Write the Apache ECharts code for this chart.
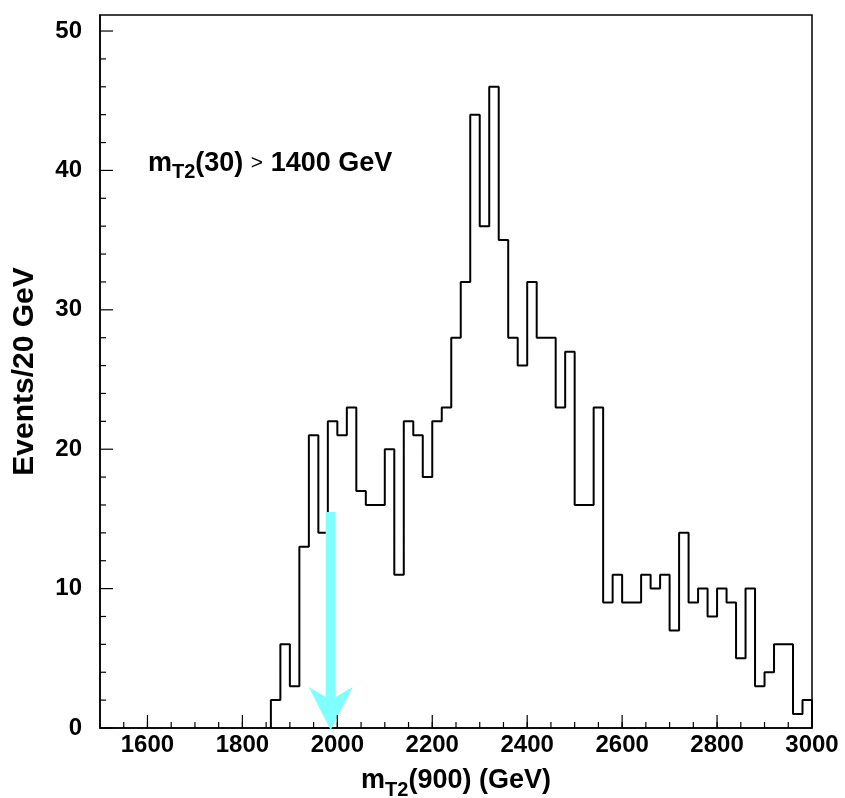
<!DOCTYPE html>
<html>
<head>
<meta charset="utf-8">
<script src="https://cdn.jsdelivr.net/npm/echarts@6/dist/echarts.min.js"></script>
<style>
html,body{margin:0;padding:0;background:#fff;}
#c{width:845px;height:798px;}
</style>
</head>
<body>
<div id="c"></div>
<script>
// ---- data ----
const binEdges = [1860,1880,1900,1920,1940,1960,1980,2000,2020,2040,2060,2080,2100,2120,2140,2160,2180,2200,2220,2240,
  2260,2280,2300,2320,2340,2360,2380,2400,2420,2440,2460,2480,2500,2520,2540,2560,2580,2600,2620,2640,
  2660,2680,2700,2720,2740,2760,2780,2800,2820,2840,2860,2880,2900,2920,2940,2960,2980,3000];
const counts = [2,6,3,13,21,14,22,21,23,17,16,16,20,11,22,21,18,22,23,28,
  32,44,36,46,35,28,26,32,28,28,23,27,16,16,23,9,11,9,9,11,
  10,11,7,14,9,10,8,10,9,5,10,3,4,6,6,1,2];
const xMin = 1500, xMax = 3000, yMin = 0, yMax = 51.15;
const xMajorTicks = [1600,1800,2000,2200,2400,2600,2800,3000];
const xMinorTicks = [1550,1600,1650,1700,1750,1800,1850,1900,1950,2000,2050,2100,2150,2200,2250,2300,2350,2400,
  2450,2500,2550,2600,2650,2700,2750,2800,2850,2900,2950];
const yMajorTicks = [0,10,20,30,40,50];
const yMinorTicks = [2,4,6,8,12,14,16,18,22,24,26,28,32,34,36,38,42,44,46,48];
const arrowX = 1986;
const arrowTop = 15.5;
const arrowBottom = 0;

// ---- build step points ----
const stepPoints = [[binEdges[0], 0]];
for (let i = 0; i < counts.length; i++) stepPoints.push([binEdges[i], counts[i]]);
stepPoints.push([binEdges[binEdges.length - 1], 0]);

const xTickData = xMinorTicks.map(v => [v, 0]).concat(xMajorTicks.map(v => [v, 1]));
const yTickData = yMinorTicks.map(v => [v, 0]).concat(yMajorTicks.map(v => [v, 1]));

const FONT = 'Liberation Sans';
const labelStyle = { color:'#000', fontFamily:FONT, fontWeight:'bold', fontSize:24 };
const MAJOR_LEN = 13, MINOR_LEN = 6;

const chart = echarts.init(document.getElementById('c'), null, {renderer:'canvas'});
chart.setOption({
  animation:false,
  backgroundColor:'#fff',
  grid:{left:100, right:33, top:15, bottom:70, containLabel:false, outerBoundsMode:'none',
        show:true, borderColor:'#000', borderWidth:1.5, backgroundColor:'transparent'},
  xAxis:{
    type:'value', min:xMin, max:xMax, interval:50,
    name:'{m|m}{s|T2}{m|(900) (GeV)}',
    nameLocation:'middle', nameGap:34,
    nameTextStyle:{
      rich:{
        m:{fontFamily:FONT, fontWeight:'bold', fontSize:27, color:'#000', lineHeight:38},
        s:{fontFamily:FONT, fontWeight:'bold', fontSize:20, color:'#000', lineHeight:20, verticalAlign:'bottom'}
      }
    },
    axisLine:{show:true, onZero:false, lineStyle:{color:'#000', width:1.5}},
    axisTick:{show:false},
    axisLabel:Object.assign({customValues:xMajorTicks, margin:5, formatter:v => String(v)}, labelStyle),
    splitLine:{show:false}
  },
  yAxis:{
    type:'value', min:yMin, max:yMax, interval:2,
    name:'Events/20 GeV',
    nameLocation:'middle', nameGap:60,
    nameTextStyle:{fontFamily:FONT, fontWeight:'bold', fontSize:30, color:'#000'},
    axisLine:{show:true, onZero:false, lineStyle:{color:'#000', width:1.5}},
    axisTick:{show:false},
    axisLabel:Object.assign({customValues:yMajorTicks, margin:18, formatter:v => String(v)}, labelStyle),
    splitLine:{show:false}
  },
  graphic:[{
    type:'text', left:148, top:150,
    style:{
      text:'{m|m}{s|T2}{m|(30) }{g|>}{m| 1400 GeV}',
      rich:{
        m:{fontFamily:FONT, fontWeight:'bold', fontSize:27, fill:'#000', lineHeight:38},
        s:{fontFamily:FONT, fontWeight:'bold', fontSize:20, fill:'#000', lineHeight:20, verticalAlign:'bottom'},
        g:{fontFamily:FONT, fontWeight:'normal', fontSize:21, fill:'#000', lineHeight:38}
      }
    }
  }],
  series:[{
    type:'line', step:'end', symbol:'none', data:stepPoints,
    lineStyle:{color:'#000', width:2}, z:3
  },{
    type:'custom', z:6, silent:true, data:xTickData,
    renderItem:function(params, api){
      const p = api.coord([api.value(0), yMin]);
      const len = api.value(1) ? MAJOR_LEN : MINOR_LEN;
      return {type:'line', shape:{x1:p[0], y1:p[1], x2:p[0], y2:p[1]-len}, style:{stroke:'#000', lineWidth:1.2}};
    }
  },{
    type:'custom', z:6, silent:true, data:yTickData,
    renderItem:function(params, api){
      const p = api.coord([xMin, api.value(0)]);
      const len = api.value(1) ? MAJOR_LEN : MINOR_LEN;
      return {type:'line', shape:{x1:p[0], y1:p[1], x2:p[0]+len, y2:p[1]}, style:{stroke:'#000', lineWidth:1.2}};
    }
  },{
    type:'custom', z:5, data:[[arrowX, arrowTop, arrowBottom]],
    renderItem:function(params, api){
      const top = api.coord([api.value(0), api.value(1)]);
      const bot = api.coord([api.value(0), api.value(2)]);
      const x = top[0], sw = 5, hw = 22, tipY = bot[1] + 2;
      return {
        type:'polygon',
        shape:{points:[[x-sw, top[1]],[x+sw, top[1]],[x+sw, tipY-33],[x+hw, tipY-43],[x, tipY],[x-hw, tipY-43],[x-sw, tipY-33]]},
        style:{fill:'#7fffff'}
      };
    }
  }]
});
</script>
</body>
</html>
